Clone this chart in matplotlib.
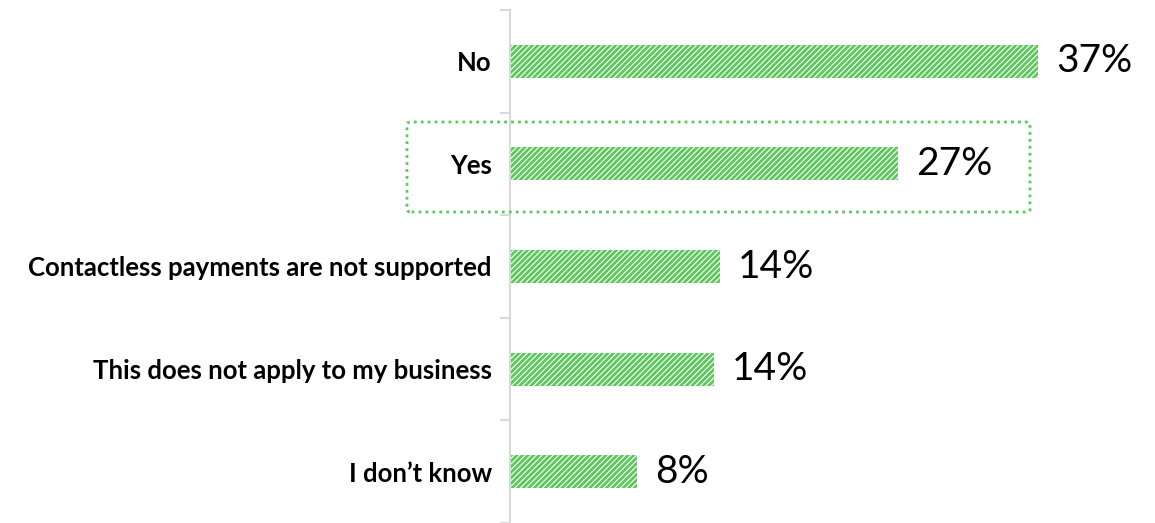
import matplotlib.pyplot as plt
from matplotlib.patches import FancyBboxPatch

categories = ["No", "Yes", "Contactless payments are not supported",
              "This does not apply to my business", "I don\u2019t know"]
values = [37.0, 27.2, 14.7, 14.3, 8.9]
value_labels = ["37%", "27%", "14%", "14%", "8%"]

green = "#5cc85c"
grey = "#d9d9d9"

plt.rcParams['font.family'] = ['Lato', 'DejaVu Sans']
plt.rcParams['hatch.linewidth'] = 2.0
plt.rcParams['hatch.color'] = green

W, H = 1155, 523
fig = plt.figure(figsize=(W / 100, H / 100), dpi=100)
ax = fig.add_axes([510 / W, 0, 645 / W, 513 / H])

ypos = list(range(len(categories)))
ax.barh(ypos, values, height=0.32, color="white", edgecolor=green,
        hatch="//////", linewidth=0)

for y, v, lab in zip(ypos, values, value_labels):
    ax.annotate(lab, (v, y), xytext=(13, 0), textcoords="offset points",
                va="center", ha="left", fontsize=28, color="black")

ax.set_xlim(0, 645 / 14.27)
ax.set_ylim(len(categories) - 0.5, -0.5)

for s in ["top", "right", "bottom"]:
    ax.spines[s].set_visible(False)
ax.spines["left"].set_color(grey)
ax.spines["left"].set_linewidth(1.5)

ax.set_xticks([])
ax.set_yticks(ypos)
ax.set_yticklabels(categories, fontsize=18.5, fontweight="bold")
ax.tick_params(axis="y", length=0, pad=13)
ax.set_yticks([y - 0.5 for y in ypos] + [len(categories) - 0.5], minor=True)
ax.tick_params(axis="y", which="minor", length=7, width=1.5, color=grey)

# dotted highlight around the "Yes" row
box = FancyBboxPatch((407 / W, 1 - 212 / H), (1030 - 407) / W, 90 / H,
                     boxstyle="round,pad=0,rounding_size=0.004",
                     transform=fig.transFigure, fill=False, edgecolor=green,
                     linewidth=2, linestyle=(0, (1, 1.5)), clip_on=False)
fig.patches.append(box)

fig.savefig("out.png", dpi=100)
